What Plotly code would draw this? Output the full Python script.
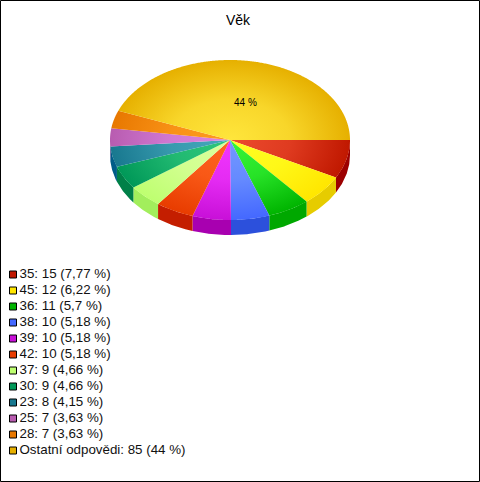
import math
import plotly.graph_objects as go

# --- data ---
title = "Věk"
categories = ["35", "45", "36", "38", "39", "42", "37", "30", "23", "25", "28", "Ostatní odpovědi"]
values = [15, 12, 11, 10, 10, 10, 9, 9, 8, 7, 7, 85]
percent_labels = ["7,77", "6,22", "5,7", "5,18", "5,18", "5,18", "4,66", "4,66", "4,15", "3,63", "3,63", "44"]
centre_colors = ["#EC4A2E", "#FFFF22", "#38F538", "#7398FF", "#F236FF", "#FF6420",
                 "#DAFF9E", "#2FC77C", "#46A8BC", "#DC84E0", "#FF9C20", "#FFE63C"]
edge_colors = ["#C01800", "#FFE600", "#00B400", "#4468FF", "#C810D8", "#E83C00",
               "#BEFF70", "#009858", "#18788F", "#B85CB0", "#E87800", "#E6B000"]
wall_colors = ["#9C0000", "#E6CC00", "#00A800", "#2C50DC", "#A800B0", "#C41E00",
               "#A2EE5C", "#008048", "#005C88", "#904090", "#C06000", "#C09000"]
legend_colors = ["#C01800", "#FFE600", "#00B400", "#4468FF", "#C810D8", "#E83C00",
                 "#BEFF70", "#009858", "#18788F", "#B85CB0", "#E87800", "#E6B000"]

# --- geometry of the tilted pie (pixels) ---
W, H = 480, 482
CX, CY, RX, RY, DEPTH = 230, 140, 120, 80, 15
LEG_X, LEG_Y0, LEG_STEP = 13, 274.5, 16
FONT = "Liberation Sans, Arial, sans-serif"

total = sum(values)


def pt(deg, extra=0):
    a = math.radians(deg)
    return CX + RX * math.cos(a), CY + RY * math.sin(a) + extra


def mix(c0, c1, f):
    a = [int(c0[i:i + 2], 16) for i in (1, 3, 5)]
    b = [int(c1[i:i + 2], 16) for i in (1, 3, 5)]
    return "rgb(%d,%d,%d)" % tuple(round(x + (y - x) * f) for x, y in zip(a, b))


fig = go.Figure()

# side walls (only the front half is visible)
start = 0.0
for v, c in zip(values, wall_colors):
    end = start + 360 * v / total
    a0, a1 = max(start, 0), min(end, 180)
    if a1 > a0:
        n = max(2, int(a1 - a0) * 2)
        angs = [a0 + (a1 - a0) * i / n for i in range(n + 1)]
        top = [pt(a) for a in angs]
        bot = [pt(a, DEPTH) for a in reversed(angs)]
        poly = top + bot + top[:1]
        fig.add_trace(go.Scatter(x=[p[0] for p in poly], y=[p[1] for p in poly], mode="lines",
                                 line=dict(width=0), fill="toself", fillcolor=c,
                                 hoverinfo="skip", showlegend=False))
    start = end

# top face: each wedge carries zero-area spurs so its gradient box is the whole ellipse
start = 0.0
for v, c0, c1, name in zip(values, centre_colors, edge_colors, categories):
    end = start + 360 * v / total
    n = max(2, int(end - start) * 2)
    angs = [start + (end - start) * i / n for i in range(n + 1)]
    pts = [(CX, CY)]
    for e in [(CX + RX, CY), (CX, CY - RY), (CX - RX, CY), (CX, CY + RY)]:
        pts += [e, (CX, CY)]
    pts += [pt(a) for a in angs] + [(CX, CY)]
    fig.add_trace(go.Scatter(x=[p[0] for p in pts], y=[p[1] for p in pts], mode="lines",
                             line=dict(width=0, simplify=False), fill="toself",
                             fillgradient=dict(type="radial",
                                               colorscale=[[0, c0], [0.5, mix(c0, c1, 0.3)], [1, c1]]),
                             name=name, hoverinfo="skip", showlegend=False))
    start = end

# legend rows
for i, (cat, v, p, c) in enumerate(zip(categories, values, percent_labels, legend_colors)):
    y = LEG_Y0 + i * LEG_STEP
    fig.add_trace(go.Scatter(x=[LEG_X], y=[y], mode="markers+text",
                             marker=dict(symbol="square", size=7, color=c, line=dict(color="black", width=1)),
                             text=[f"\u200a{cat}: {v} ({p} %)"], textposition="middle right",
                             textfont=dict(family=FONT, size=13.33, color="#111111"),
                             hoverinfo="skip", showlegend=False))

fig.add_annotation(x=245, y=102, text="44 %", showarrow=False, xref="x", yref="y",
                   font=dict(family=FONT, size=10, color="#000000"))
fig.add_annotation(x=238, y=20, text=title, showarrow=False, xref="x", yref="y",
                   font=dict(family=FONT, size=14, color="#000000"))

fig.add_shape(type="rect", xref="x", yref="y", x0=0.5, y0=0.5, x1=479.5, y1=481.5,
              line=dict(color="black", width=1))

fig.update_layout(width=W, height=H, margin=dict(l=0, r=0, t=0, b=0),
                  paper_bgcolor="white", plot_bgcolor="white", showlegend=False,
                  xaxis=dict(range=[0, W], visible=False, fixedrange=True),
                  yaxis=dict(range=[H, 0], visible=False, fixedrange=True))
fig.write_html("out.html", config=dict(displayModeBar=False),
               post_script="document.body.style.margin='0';")
